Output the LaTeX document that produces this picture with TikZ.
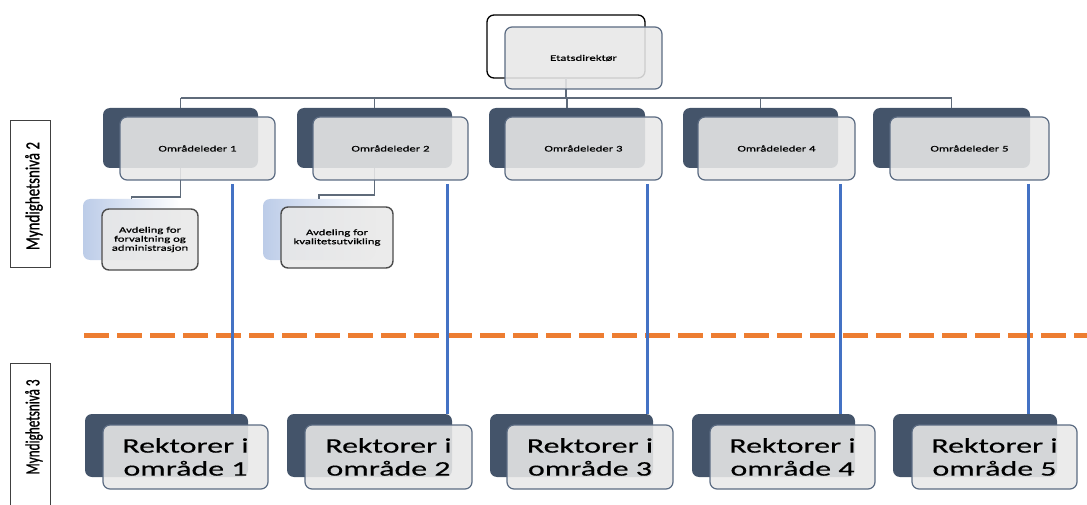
\documentclass[tikz,border=0pt]{standalone}
\usepackage{fontspec}
\setmainfont{Carlito}
\newfontfamily\boxfont[FakeStretch=1.5, FakeBold=0.6]{Carlito}
\newfontfamily\bigfont[FakeStretch=1.54, FakeBold=0.4]{Carlito}
\newfontfamily\lblfont[FakeStretch=0.75, FakeBold=0.8]{Carlito}
\newfontfamily\lblfontB[FakeStretch=0.66, FakeBold=0.8]{Carlito}
\definecolor{navy}{HTML}{44546A}
\definecolor{frontgray}{HTML}{E8E8E8}
\definecolor{edge}{HTML}{5B6B82}
\definecolor{linkgray}{HTML}{5F6B7A}
\definecolor{linkblue}{HTML}{4472C4}
\definecolor{levelorange}{HTML}{ED7D31}
\definecolor{paleblue}{HTML}{BCCCE8}
% rounded box given by its corners: name, style, x1, y1, x2, y2, text
\newcommand\rbox[7]{%
  \node[#2, minimum width={#5-#3}, minimum height={#6-#4}] (#1)
    at ({(#3+#5)/2},{(#4+#6)/2}) {#7};}
\tikzset{
  base/.style={rectangle, rounded corners=7pt, inner sep=0pt, outer sep=0pt, align=center},
  backdark/.style={base, fill=navy},
  backwhite/.style={base, fill=white, draw=black, line width=1.3pt},
  backpale/.style={base, left color=paleblue, right color=white},
  frontbox/.style={base, fill=frontgray, fill opacity=0.88, text opacity=1, draw=edge, line width=1.2pt},
  smalltext/.style={font=\boxfont\fontsize{8.5}{9}\selectfont},
  bigtext/.style={font=\bigfont\fontsize{20.7}{23}\selectfont},
  link/.style={draw=linkgray, line width=1.3pt},
  bluelink/.style={draw=linkblue, line width=3pt},
  levelbox/.style={draw=black!75, line width=0.9pt},
}
\begin{document}
\begin{tikzpicture}[x=1pt, y=-1pt]
\useasboundingbox (0,0) rectangle (1087,505);

% level boundary
\draw[levelorange, line width=5pt, dash pattern=on 25pt off 8pt] (84,335) -- (1087,335);

% back plates
\rbox{etB}{backwhite}{487}{15}{645}{78}{}
\rbox{o1B}{backdark}{103}{108}{258}{168}{}
\rbox{o2B}{backdark}{297}{108}{452}{168}{}
\rbox{o3B}{backdark}{489}{108}{645}{168}{}
\rbox{o4B}{backdark}{683}{108}{838}{168}{}
\rbox{o5B}{backdark}{873}{108}{1030}{168}{}
\rbox{a1B}{backpale}{83}{199}{180}{260}{}
\rbox{a2B}{backpale}{263}{199}{375}{260}{}
\rbox{r1B}{backdark}{85}{414}{248}{477}{}
\rbox{r2B}{backdark}{287}{414}{452}{477}{}
\rbox{r3B}{backdark}{490}{414}{653}{477}{}
\rbox{r4B}{backdark}{692}{414}{855}{477}{}
\rbox{r5B}{backdark}{893}{414}{1057}{477}{}

% hierarchy connectors
\coordinate (bus) at (0,98);
\draw[link] (etB.south) -- (etB.south |- bus);
\draw[link] (o1B.north |- bus) -- (o5B.north |- bus);
\foreach \n in {o1B,o2B,o3B,o4B,o5B}
  \draw[link] (\n.north |- bus) -- (\n.north);
\draw[link] (o1B.south) -- ++(0,29) -| (a1B.north);
\draw[link] (o2B.south) -- ++(0,27) -| (a2B.north);

% front plates
\rbox{etF}{frontbox, smalltext}{505}{27}{662}{89}{Etatsdirektør}
\rbox{o1F}{frontbox, smalltext}{120}{117}{275}{180}{Områdeleder 1}
\rbox{o2F}{frontbox, smalltext}{313}{117}{468}{180}{Områdeleder 2}
\rbox{o3F}{frontbox, smalltext}{505}{117}{662}{180}{Områdeleder 3}
\rbox{o4F}{frontbox, smalltext}{698}{117}{855}{180}{Områdeleder 4}
\rbox{o5F}{frontbox, smalltext}{890}{117}{1049}{180}{Områdeleder 5}
\rbox{a1F}{frontbox, smalltext, draw=black!70, line width=1.4pt}{102}{209}{198}{270}{Avdeling for\\forvaltning og\\administrasjon}
\rbox{a2F}{frontbox, smalltext, draw=black!70, line width=1.4pt}{281}{207}{393}{268}{Avdeling for\\kvalitetsutvikling}
\rbox{r1F}{frontbox, bigtext}{103}{425}{268}{489}{Rektorer i\\område 1}
\rbox{r2F}{frontbox, bigtext}{305}{425}{472}{489}{Rektorer i\\område 2}
\rbox{r3F}{frontbox, bigtext}{507}{425}{673}{489}{Rektorer i\\område 3}
\rbox{r4F}{frontbox, bigtext}{710}{425}{875}{489}{Rektorer i\\område 4}
\rbox{r5F}{frontbox, bigtext}{912}{425}{1077}{489}{Rektorer i\\område 5}

% direct lines from area leaders to their principals
\coordinate (s1) at (232,184);
\coordinate (s2) at (447,184);
\coordinate (s3) at (647,184);
\coordinate (s4) at (840,184);
\coordinate (s5) at (1028,184);
\foreach \i in {1,...,5}
  \draw[bluelink] (s\i) -- (s\i |- r\i B.north);

% level labels
\draw[levelbox] (10,120) rectangle (50,267);
\node[rotate=90, font=\lblfont\fontsize{20}{20}\selectfont, inner sep=0pt] (lv2) at (34,196) {Myndighetsnivå 2};
\draw[levelbox] (10,363) -- (10,510) (50,510) -- (50,363) -- (10,363);
\node[rotate=90, font=\lblfontB\fontsize{20}{20}\selectfont, inner sep=0pt] (lv3) at (34,427) {Myndighetsnivå 3};
\end{tikzpicture}
\end{document}
